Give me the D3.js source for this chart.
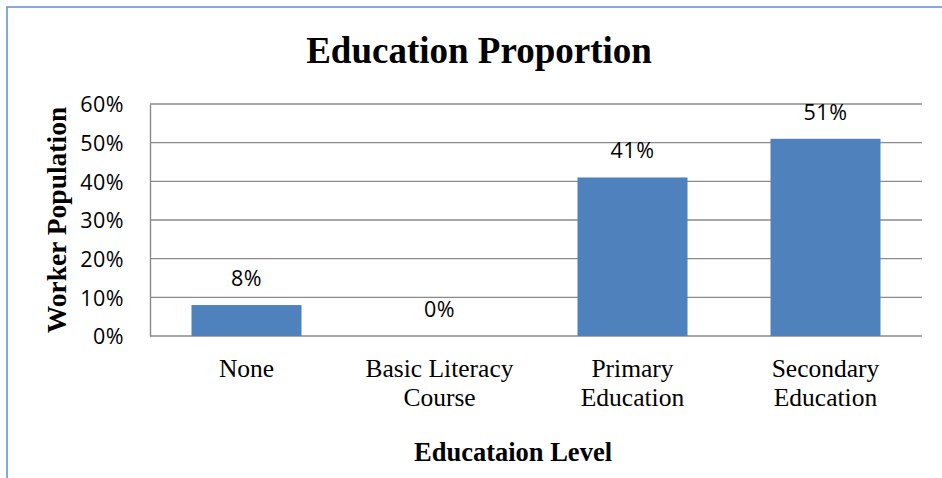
<!DOCTYPE html>
<html>
<head>
<meta charset="utf-8">
<script src="https://cdn.jsdelivr.net/npm/d3@7"></script>
<style>
  html, body { margin: 0; padding: 0; background: #fff; }
  svg { display: block; }
</style>
</head>
<body>
<svg id="chart" width="942" height="478"></svg>
<script>
// Education level categories (label lines) and worker share per level
const categories = ["None", "Basic Literacy Course", "Primary Education", "Secondary Education"];
const categoryLines = [["None"], ["Basic Literacy", "Course"], ["Primary", "Education"], ["Secondary", "Education"]];
const shares = [0.08, 0.00, 0.41, 0.51];
const yTicks = [0, 0.1, 0.2, 0.3, 0.4, 0.5, 0.6];

const svg = d3.select("#chart");
const W = 942, H = 478;
const plot = { left: 150, right: 922, top: 104, bottom: 336 };

const serif = "'Liberation Serif', 'Times New Roman', serif";
const sans = "'Open Sans', 'Liberation Sans', sans-serif";

// Outer chart frame (left and top edges visible)
svg.append("path")
  .attr("d", `M7,${H} L7,7 L${W},7`)
  .attr("fill", "none")
  .attr("stroke", "#5B8DD6")
  .attr("stroke-width", 1.5);

const x = d3.scaleBand()
  .domain(categories)
  .range([plot.left, plot.right])
  .paddingInner(0.43)
  .paddingOuter(0.215);

const y = d3.scaleLinear()
  .domain([0, 0.6])
  .range([plot.bottom, plot.top]);

const pct = d3.format(".0%");

// Horizontal gridlines
svg.append("g")
  .selectAll("line")
  .data(yTicks)
  .join("line")
  .attr("x1", plot.left)
  .attr("x2", plot.right)
  .attr("y1", d => y(d))
  .attr("y2", d => y(d))
  .attr("stroke", "#8A8A8A")
  .attr("stroke-width", 1.4);

// Y axis
const yAxis = svg.append("g")
  .attr("transform", `translate(${plot.left},0)`)
  .call(d3.axisLeft(y).tickValues(yTicks).tickFormat(pct).tickSize(0).tickPadding(26));
yAxis.select(".domain").attr("stroke", "#8A8A8A").attr("stroke-width", 1.4);
yAxis.selectAll("text")
  .attr("font-family", sans)
  .attr("font-size", 21.5)
  .attr("letter-spacing", 0.5)
  .attr("fill", "#000")
  .attr("dy", "0.36em");

// Bars
svg.append("g")
  .selectAll("rect")
  .data(categories)
  .join("rect")
  .attr("x", d => x(d))
  .attr("width", x.bandwidth())
  .attr("y", (d, i) => y(shares[i]))
  .attr("height", (d, i) => y(0) - y(shares[i]))
  .attr("fill", "#4F81BD");

// Value labels above bars
svg.append("g")
  .selectAll("text")
  .data(categories)
  .join("text")
  .attr("x", d => x(d) + x.bandwidth() / 2)
  .attr("y", (d, i) => y(shares[i]) - 19)
  .attr("text-anchor", "middle")
  .attr("font-family", sans)
  .attr("font-size", 21.5)
  .attr("letter-spacing", 0.5)
  .attr("fill", "#000")
  .text((d, i) => pct(shares[i]));

// Category labels (wrapped onto two lines where needed)
const xl = svg.append("g")
  .selectAll("text")
  .data(categories)
  .join("text")
  .attr("text-anchor", "middle")
  .attr("font-family", serif)
  .attr("font-size", 25.5)
  .attr("fill", "#000");
xl.each(function(d, i) {
  const t = d3.select(this);
  categoryLines[i].forEach((line, k) => {
    t.append("tspan")
      .attr("x", x(d) + x.bandwidth() / 2)
      .attr("y", 377 + k * 28.5)
      .text(line);
  });
});

// Chart title
svg.append("text")
  .attr("x", 479)
  .attr("y", 63)
  .attr("text-anchor", "middle")
  .attr("font-family", serif)
  .attr("font-weight", "bold")
  .attr("font-size", 37)
  .attr("fill", "#000")
  .text("Education Proportion");

// X axis title
svg.append("text")
  .attr("x", 513)
  .attr("y", 461)
  .attr("text-anchor", "middle")
  .attr("font-family", serif)
  .attr("font-weight", "bold")
  .attr("font-size", 26.5)
  .attr("fill", "#000")
  .text("Educataion Level");

// Y axis title
svg.append("text")
  .attr("transform", "translate(66,220) rotate(-90)")
  .attr("text-anchor", "middle")
  .attr("font-family", serif)
  .attr("font-weight", "bold")
  .attr("font-size", 27.5)
  .attr("fill", "#000")
  .text("Worker Population");
</script>
</body>
</html>
